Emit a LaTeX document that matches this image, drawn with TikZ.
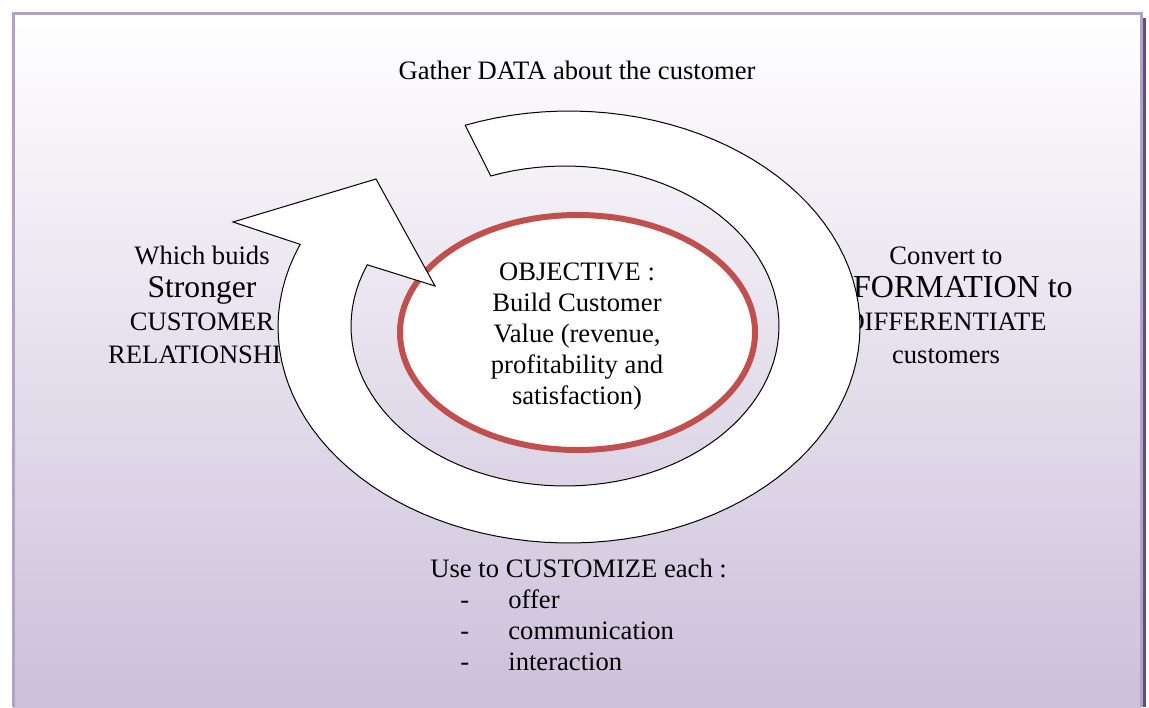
\documentclass[tikz,border=0pt]{standalone}
\usepackage{fontspec}
\setmainfont{Liberation Serif}
\usetikzlibrary{positioning}

\definecolor{framepurple}{RGB}{179,162,199}
\definecolor{shadowpurple}{RGB}{96,80,125}
\definecolor{lavender}{RGB}{204,192,218}
\definecolor{objred}{RGB}{192,80,77}

\newcommand{\dashitem}[1]{\hspace*{15pt}\makebox[24pt][l]{-}#1}

\begin{document}
\begin{tikzpicture}[%
    x=0.5pt, y=-0.5pt,
    font=\fontsize{13.3}{15.5}\selectfont,
    % Colors
    framefill/.style={top color=white, bottom color=lavender},
    ringline/.style={draw=objred, line width=3pt, fill=white},
    arrowbody/.style={draw=black, line width=0.5pt, fill=white, line join=miter},
    cyclelabel/.style={align=center, inner sep=0pt},
    sidelabel/.style={cyclelabel, font=\fontsize{13.3}{16.5}\selectfont}
]

% --- 1. Background Frame ---
\useasboundingbox (0,0) rectangle (1149,707);
\fill[shadowpurple] (1141,18) rectangle (1146,707);
\shade[framefill] (13,13) rectangle (1141,707);
\draw[framepurple, line width=1.5pt] (13,707) -- (13,13) -- (1141,13) -- (1141,707);

% --- 2. Cycle Steps (behind the arrow) ---
\node[cyclelabel] (gather) at (577,70) {Gather DATA about the customer};
\node[sidelabel] (builds) at (202,305) {Which buids\\{\fontsize{15.8}{16.5}\selectfont Stronger}\\CUSTOMER\\RELATIONSHIP};
\node[sidelabel] (convert) at (946,305) {Convert to\\{\fontsize{16}{16.5}\selectfont INFORMATION to}\\DIFFERENTIATE\\customers};
\node[cyclelabel, align=left, anchor=north west] (customize) at (430,559) {Use to CUSTOMIZE each :\\\dashitem{offer}\\\dashitem{communication}\\\dashitem{interaction}};

% --- 3. Objective Ellipse ---
\draw[ringline] (577.5,332.5) ellipse [x radius=88.75pt, y radius=58.75pt];

% --- 4. Circular Arrow (outer arc, head, inner arc back to tail) ---
\draw[arrowbody]
    plot[domain=249.1:562.5, samples=100] ({569+291*cos(\x)}, {327+216*sin(\x)})
    -- (233,222) -- (376,179) -- (435,286) -- (368,265)
    -- plot[domain=249.7:562.5, samples=100] ({565+214*cos(812.2-\x)}, {326+160*sin(812.2-\x)})
    -- cycle;

% --- 5. Objective Text ---
\node[cyclelabel] (objective) at (577,337) {OBJECTIVE :\\Build Customer\\Value (revenue,\\profitability and\\satisfaction)};

\end{tikzpicture}
\end{document}
